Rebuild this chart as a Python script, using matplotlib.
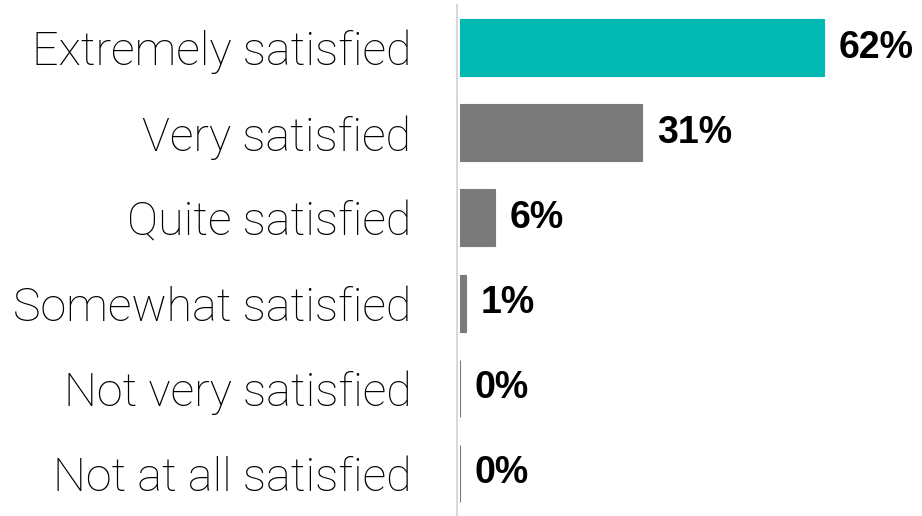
import numpy as np
import matplotlib
matplotlib.use("Agg")
from matplotlib import pyplot as plt

categories = ["Extremely satisfied", "Very satisfied", "Quite satisfied",
              "Somewhat satisfied", "Not very satisfied", "Not at all satisfied"]
values = [62, 31, 6, 1, 0, 0]
colors = ["#00b9b3", "#7a7a7a", "#7a7a7a", "#7a7a7a", "#7a7a7a", "#7a7a7a"]

fig = plt.figure(figsize=(9.22, 5.16), dpi=100)
ax = fig.add_axes([460/922, 0, 1 - 460/922, 511/516])

# spine first: moving it resets the ticks
for s in ["top", "right", "bottom"]:
	ax.spines[s].set_visible(False)
ax.spines["left"].set_position(("outward", 2))
ax.spines["left"].set_color("#d9d9d9")
ax.spines["left"].set_linewidth(1.5)

y = np.arange(len(categories))
ax.barh(y, values, height=0.67, color=colors, edgecolor=colors, linewidth=0.8)

for yi, v in zip(y, values):
	ax.text(v + 2.5, yi, str(v) + "%", va="center", ha="left",
			fontsize=27, fontweight="bold", family="Liberation Sans", color="black")

ax.set_yticks(y)
ax.set_yticklabels(categories, fontsize=33.6, family="Roboto", fontweight="light", color="black")
ax.tick_params(axis="y", length=0, pad=33)
ax.set_xticks([])
ax.set_xlim(0, 78.6)
ax.set_ylim(len(categories) - 0.5, -0.5)

fig.savefig("out.png", dpi=100)
